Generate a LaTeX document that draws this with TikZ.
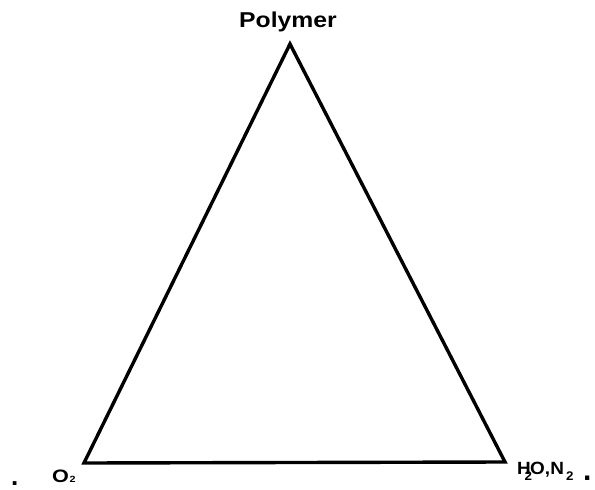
\documentclass[tikz,border=0pt]{standalone}
\usepackage{fontspec}
\setmainfont{Liberation Sans}
\newcommand{\fs}[1]{\fontsize{#1}{#1}\selectfont}
\begin{document}
\begin{tikzpicture}[x=1pt,y=-1pt,
  lbl/.style={inner sep=0pt,font=\bfseries},
  edge/.style={line width=3.4pt,line join=miter}]
\useasboundingbox (0,0) rectangle (595,490);
\coordinate (top) at (290,44);
\coordinate (bl) at (84,463);
\coordinate (br) at (505,462);
\draw[edge] (top) -- (bl) -- (br) -- cycle;
\node[lbl,anchor=base] (poly) at (288,27.7) {\scalebox{1.15}[1]{\fs{21.5}Polymer}};
\node[lbl,anchor=base west] (o2) at (51.8,482.4) {\scalebox{1.2}[1]{\fs{18}O\kern0.6pt{\fs{9}2}}};
\node[lbl,anchor=base west] (dotl) at (11,485) {\fs{26}.};
\node[lbl,anchor=base west] (h2o) at (517,474.3) {\scalebox{1.07}[1]{\fs{17.7}H\kern-5.8pt\raisebox{-6.5pt}{\fs{12.5}2}\kern-1.9pt O,\kern0.3pt N\kern2pt\raisebox{-6.5pt}{\fs{12.5}2}}};
\node[lbl,anchor=base west] (dotr) at (583,480) {\fs{30}.};
\end{tikzpicture}
\end{document}
